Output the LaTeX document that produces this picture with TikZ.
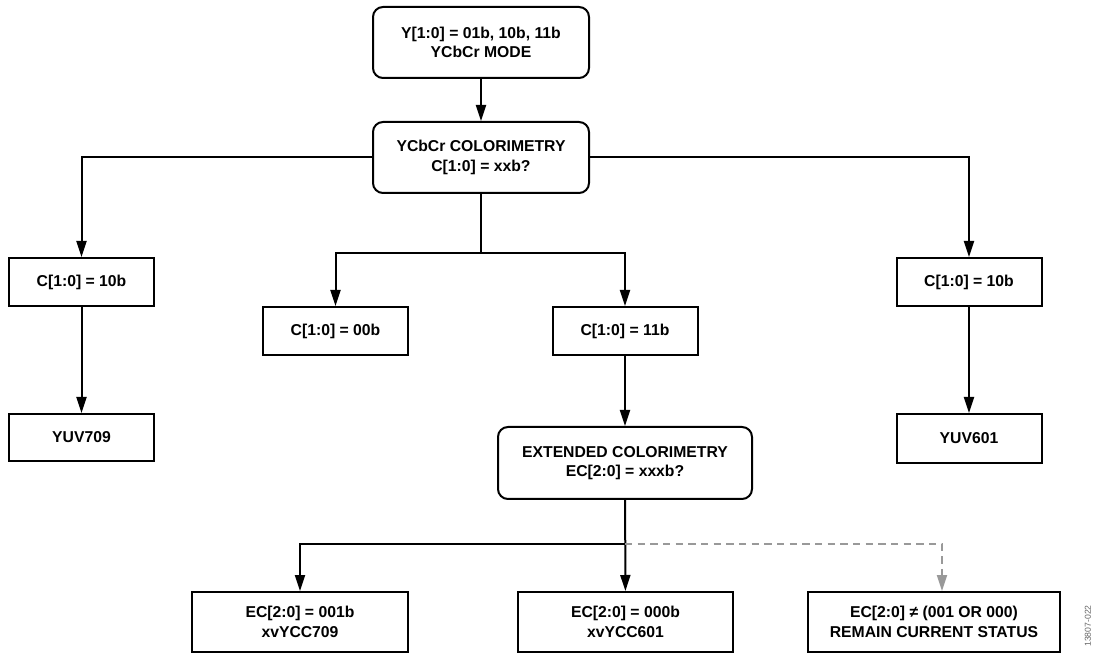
\documentclass[tikz,border=0pt]{standalone}
\usepackage{fontspec}
\setmainfont{Liberation Sans}
\usetikzlibrary{arrows.meta,positioning}
\tikzset{
  box/.style={draw,line width=1.5pt,font=\bfseries\fontsize{11.8}{14.5}\selectfont,align=center,inner sep=0pt,minimum width=108.75pt,minimum height=36pt},
  decision/.style={box,rounded corners=7.5pt},
  flow/.style={line width=1.5pt,-{Triangle[length=12pt,width=7.5pt]}},
  flowx/.style={flow,draw=black!40,dash pattern=on 5.5pt off 4pt}
}
\begin{document}
\begin{tikzpicture}[x=0.75pt,y=-0.75pt]
\useasboundingbox (0,0) rectangle (1096,655);
% decisions
\node[decision,minimum width=162pt,minimum height=53.25pt] (mode) at (481,42.5) {Y[1:0] = 01b, 10b, 11b\\YCbCr MODE};
\node[decision,minimum width=162pt,minimum height=53.25pt] (colr) at (481,157.5) {YCbCr COLORIMETRY\\C[1:0] = xxb?};
\node[decision,minimum width=190.5pt,minimum height=54pt] (ext) at (625,463) {EXTENDED COLORIMETRY\\EC[2:0] = xxxb?};
% C[1:0] values
\node[box] (c10l) at (81.5,282) {C[1:0] = 10b};
\node[box] (c00) at (335.5,331) {C[1:0] = 00b};
\node[box] (c11) at (625,331) {C[1:0] = 11b};
\node[box] (c10r) at (969,282) {C[1:0] = 10b};
\node[box,minimum height=35.25pt] (yuv709) at (81.5,437.5) {YUV709};
\node[box,minimum height=36.75pt] (yuv601) at (969,438.5) {YUV601};
% EC[2:0] values
\node[box,minimum width=162pt,minimum height=45pt] (ec001) at (300,622) {EC[2:0] = 001b\\xvYCC709};
\node[box,minimum width=161.25pt,minimum height=45pt] (ec000) at (625.5,622) {EC[2:0] = 000b\\xvYCC601};
\node[box,minimum width=189pt,minimum height=45pt] (ecx) at (934,622) {EC[2:0] ≠ (001 OR 000)\\REMAIN CURRENT STATUS};
\node[rotate=90,font=\fontsize{6.5}{7}\selectfont,text=black!60] (fignum) at (1088,626) {13807-022};
% connectors
\coordinate (splitC) at (481,253);
\coordinate (splitE) at (625,544);
\draw[flow] (mode) -- (colr);
\draw[flow] (colr.west) -| (c10l);
\draw[flow] (colr.east) -| (c10r);
\draw[flow] (c10l) -- (yuv709);
\draw[flow] (c10r) -- (yuv601);
\draw[line width=1.5pt] (colr) -- (splitC);
\draw[flow] (splitC) -| (c00);
\draw[flow] (splitC) -| (c11);
\draw[flow] (c11) -- (ext);
\draw[flow] (ext) -- (ec000);
\draw[flow] (splitE) -| (ec001);
\draw[flowx] (splitE) -| ([xshift=6pt]ecx.north);
\end{tikzpicture}
\end{document}
